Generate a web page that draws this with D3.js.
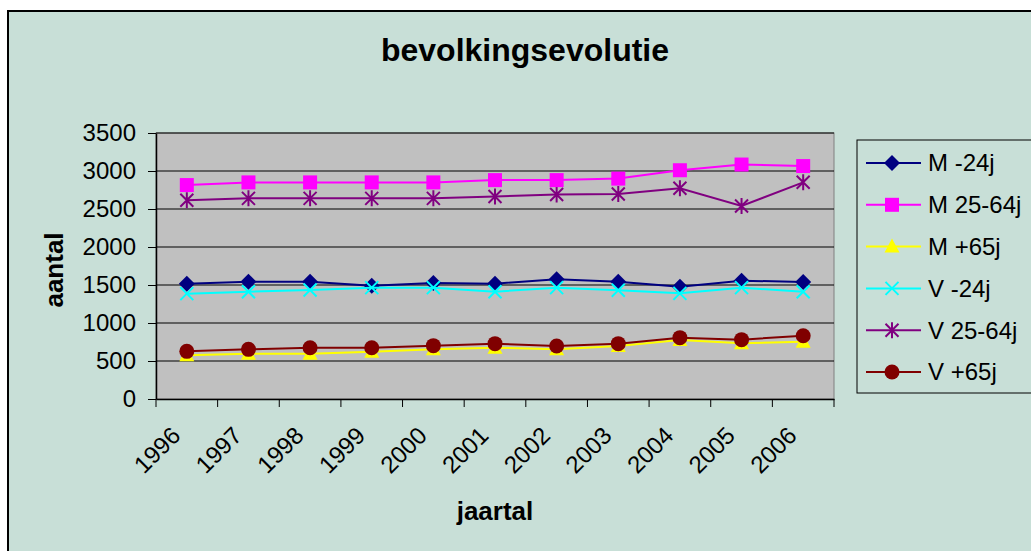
<!DOCTYPE html>
<html><head><meta charset="utf-8">
<script src="https://cdn.jsdelivr.net/npm/d3@7"></script>
<style>body{margin:0;background:#fff}svg{display:block}text{font-family:"Liberation Sans",Arial,sans-serif}</style>
</head><body><svg id="c" width="1031" height="551"></svg>
<script>
const years = ["1996","1997","1998","1999","2000","2001","2002","2003","2004","2005","2006"];
const yTicks = [0,500,1000,1500,2000,2500,3000,3500];
const seriesNames = ["M -24j","M 25-64j","M +65j","V -24j","V 25-64j","V +65j"];
const seriesColors = ["#000080","#FF00FF","#FFFF00","#00FFFF","#800080","#800000"];
const seriesMarkers = ["diamond","square","triangle","x","star","circle"];
const mMin24 = [1518,1544,1544,1491,1525,1518,1575,1544,1478,1557,1539];
const m25_64 = [2815,2850,2850,2850,2850,2880,2880,2900,3010,3085,3065];
const mPlus65 = [575,596,596,623,653,675,653,697,776,732,754];
const vMin24 = [1386,1412,1434,1465,1465,1412,1465,1430,1390,1465,1412];
const v25_64 = [2615,2640,2640,2640,2640,2665,2690,2697,2772,2539,2851];
const vPlus65 = [627,653,675,675,702,728,697,728,807,781,833];
const seriesValues = [mMin24,m25_64,mPlus65,vMin24,v25_64,vPlus65];

const svg = d3.select("#c");
svg.append("rect").attr("x",8).attr("y",11).attr("width",1040).attr("height",560)
  .attr("fill","#C8DFD7").attr("stroke","#000").attr("stroke-width",2);

const L=156,R=834,T=133,B=399;
const x = d3.scaleBand().domain(years).range([L,R]);
const y = d3.scaleLinear().domain([0,3500]).range([B,T]);

svg.append("rect").attr("x",L).attr("y",T).attr("width",R-L).attr("height",B-T)
  .attr("fill","#C0C0C0").attr("stroke","#808080").attr("stroke-width",1);

svg.append("g").selectAll("line").data(yTicks.slice(1)).join("line")
  .attr("x1",L).attr("x2",R).attr("y1",d=>y(d)).attr("y2",d=>y(d))
  .attr("stroke","#000").attr("stroke-width",1);

const ya = svg.append("g").attr("transform",`translate(${L},0)`)
  .call(d3.axisLeft(y).tickValues(yTicks).tickFormat(d3.format("d")).tickSize(8).tickSizeOuter(0).tickPadding(12));
ya.select(".domain").attr("stroke","#000").attr("stroke-width",1.5);
ya.selectAll(".tick line").attr("stroke","#000");
ya.selectAll("text").attr("font-size",24).attr("fill","#000").attr("font-family","Liberation Sans, Arial");

const xa = svg.append("g").attr("transform",`translate(0,${B})`)
  .call(d3.axisBottom(x).tickSize(0).tickFormat(""));
xa.select(".domain").attr("stroke","#000").attr("stroke-width",1.5);
const xt = svg.append("g");
xt.selectAll("line").data(years.concat(["end"])).join("line")
  .attr("x1",(d,i)=>L+i*x.step()).attr("x2",(d,i)=>L+i*x.step())
  .attr("y1",B).attr("y2",B+8).attr("stroke","#000");
xt.selectAll("text").data(years).join("text")
  .attr("transform",d=>`translate(${x(d)+x.bandwidth()/2-5},${B+38}) rotate(-45)`)
  .attr("text-anchor","end")
  .attr("font-size",24).attr("fill","#000").text(d=>d);

svg.append("text").attr("x",525).attr("y",61).attr("text-anchor","middle")
  .attr("font-size",32).attr("font-weight","bold").text("bevolkingsevolutie");
svg.append("text").attr("x",495).attr("y",520).attr("text-anchor","middle")
  .attr("font-size",26).attr("font-weight","bold").text("jaartal");
svg.append("text").attr("transform","translate(63,270) rotate(-90)").attr("text-anchor","middle")
  .attr("font-size",26).attr("font-weight","bold").text("aantal");

function marker(g,type,color,cx,cy){
  if(type==="diamond") g.append("path").attr("d",`M${cx},${cy-8}L${cx+8},${cy}L${cx},${cy+8}L${cx-8},${cy}Z`).attr("fill",color);
  else if(type==="square") g.append("rect").attr("x",cx-7).attr("y",cy-7).attr("width",14).attr("height",14).attr("fill",color);
  else if(type==="triangle") g.append("path").attr("d",`M${cx},${cy-8}L${cx+7.5},${cy+6}L${cx-7.5},${cy+6}Z`).attr("fill",color);
  else if(type==="circle") g.append("circle").attr("cx",cx).attr("cy",cy).attr("r",7.5).attr("fill",color);
  else if(type==="x") g.append("path").attr("d",`M${cx-6.5},${cy-6.5}L${cx+6.5},${cy+6.5}M${cx-6.5},${cy+6.5}L${cx+6.5},${cy-6.5}`).attr("stroke",color).attr("stroke-width",2);
  else if(type==="star") g.append("path").attr("d",`M${cx-6.5},${cy-6.5}L${cx+6.5},${cy+6.5}M${cx-6.5},${cy+6.5}L${cx+6.5},${cy-6.5}M${cx},${cy-8}L${cx},${cy+8}`).attr("stroke",color).attr("stroke-width",2);
}

const line = d3.line().x((d,i)=>x(years[i])+x.bandwidth()/2).y(d=>y(d));
const drawOrder=[0,3,4,1,2,5];
drawOrder.forEach(si=>{
  const g = svg.append("g");
  g.append("path").datum(seriesValues[si]).attr("d",line).attr("fill","none")
    .attr("stroke",seriesColors[si]).attr("stroke-width",2);
  seriesValues[si].forEach((v,i)=>marker(g,seriesMarkers[si],seriesColors[si],x(years[i])+x.bandwidth()/2,y(v)));
});

const lg = svg.append("g");
lg.append("rect").attr("x",857).attr("y",140).attr("width",190).attr("height",253)
  .attr("fill","#C8DFD7").attr("stroke","#000").attr("stroke-width",1);
seriesNames.forEach((n,i)=>{
  const cy=163+i*41.8;
  lg.append("line").attr("x1",866).attr("x2",921).attr("y1",cy).attr("y2",cy).attr("stroke",seriesColors[i]).attr("stroke-width",2);
  marker(lg,seriesMarkers[i],seriesColors[i],892,cy);
  lg.append("text").attr("x",928).attr("y",cy).attr("dy","0.35em").attr("font-size",24).text(n.replace(" ","\u00a0"));
});
</script></body></html>
